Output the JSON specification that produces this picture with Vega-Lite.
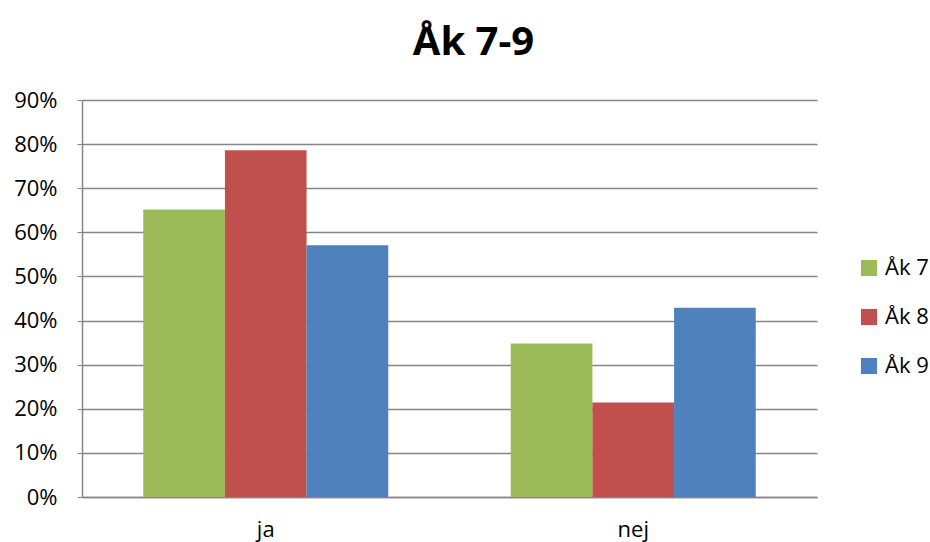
{
  "$schema": "https://vega.github.io/schema/vega-lite/v6.json",
  "autosize": "none",
  "width": 735,
  "height": 397,
  "padding": {"left": 82, "top": 100, "right": 113, "bottom": 45},
  "background": "white",
  "title": {"text": "Åk 7-9", "font": "Open Sans", "fontSize": 40, "fontWeight": "bold", "color": "#000000", "anchor": "middle", "offset": 26, "dx": 24},
  "data": {"values": [
    {"svar": "ja", "grupp": "Åk 7", "andel": 0.652},
    {"svar": "ja", "grupp": "Åk 8", "andel": 0.786},
    {"svar": "ja", "grupp": "Åk 9", "andel": 0.571},
    {"svar": "nej", "grupp": "Åk 7", "andel": 0.348},
    {"svar": "nej", "grupp": "Åk 8", "andel": 0.214},
    {"svar": "nej", "grupp": "Åk 9", "andel": 0.429}
  ]},
  "mark": {"type": "bar"},
  "encoding": {
    "x": {"field": "svar", "type": "nominal", "title": null,
      "scale": {"paddingInner": 0.3333, "paddingOuter": 0.1667},
      "axis": {"labelAngle": 0, "labelFont": "Open Sans", "labelFontSize": 22, "labelColor": "#000000", "ticks": false, "labelPadding": 22, "domainColor": "#868686", "domainWidth": 1.5}},
    "xOffset": {"field": "grupp", "type": "nominal", "scale": {"paddingInner": 0, "paddingOuter": 0}},
    "y": {"field": "andel", "type": "quantitative", "title": null,
      "scale": {"domain": [0, 0.9], "nice": false},
      "axis": {"values": [0, 0.1, 0.2, 0.3, 0.4, 0.5, 0.6, 0.7, 0.8, 0.9], "format": ".0%", "labelFont": "Open Sans", "labelFontSize": 22, "labelColor": "#000000", "tickSize": 5, "tickColor": "#868686", "labelPadding": 20, "domainColor": "#868686", "domainWidth": 1.5, "gridColor": "#868686", "gridWidth": 1.5, "grid": true}},
    "color": {"field": "grupp", "type": "nominal", "title": null,
      "scale": {"domain": ["Åk 7", "Åk 8", "Åk 9"], "range": ["#9BBB59", "#C0504D", "#4F81BD"]},
      "legend": {"orient": "none", "legendX": 776, "legendY": 157, "symbolType": "square", "symbolSize": 260, "symbolStrokeWidth": 0, "labelFont": "Open Sans", "labelFontSize": 22, "labelColor": "#000000", "rowPadding": 27, "labelOffset": 5}}
  },
  "config": {"view": {"stroke": null}}
}
